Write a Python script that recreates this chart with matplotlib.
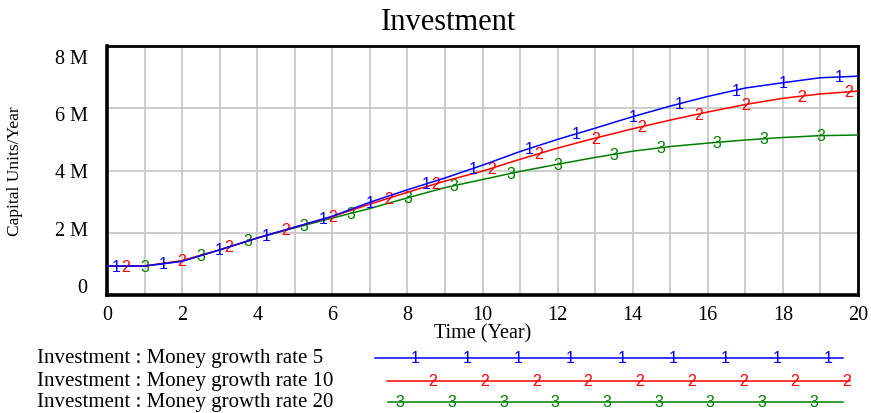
import matplotlib
matplotlib.use("Agg")
import matplotlib.pyplot as plt
import matplotlib.transforms as mtransforms
import numpy as np

# data (values in millions)
years = np.arange(0, 21)
rate5 = [0.93, 0.93, 1.08, 1.45, 1.83, 2.18, 2.53, 2.98, 3.38, 3.76, 4.17, 4.61,
         5.00, 5.36, 5.73, 6.07, 6.38, 6.65, 6.82, 6.98, 7.03]
rate10 = [0.93, 0.93, 1.10, 1.45, 1.83, 2.18, 2.52, 2.92, 3.30, 3.66, 3.98, 4.36,
          4.72, 5.04, 5.34, 5.62, 5.88, 6.12, 6.32, 6.46, 6.55]
rate20 = [0.93, 0.93, 1.10, 1.45, 1.83, 2.16, 2.47, 2.78, 3.12, 3.45, 3.71, 3.97,
          4.20, 4.42, 4.62, 4.77, 4.88, 4.98, 5.06, 5.12, 5.14]
series_names = ["Investment : Money growth rate 5",
                "Investment : Money growth rate 10",
                "Investment : Money growth rate 20"]
series_tags = ["1", "2", "3"]
yticks = [0, 2, 4, 6, 8]
ytick_labels = ["0", "2 M", "4 M", "6 M", "8 M"]

colors = ["#0000ff", "#ff0000", "#008000"]
# Vensim puts the number tags in pairs, one pair every 2.75 years
tag_offsets = [(0.25, 1.5), (0.5, 2.0), (1.0, 2.5)]

serif = ["Liberation Serif", "DejaVu Serif"]
sans = ["Liberation Sans", "DejaVu Sans"]

fig = plt.figure(figsize=(8.71, 4.14), dpi=100)
ax = fig.add_axes([107 / 871, 1 - 296 / 414, (858 - 107) / 871, (296 - 47) / 414])

for i, (vals, c, tag, offs) in enumerate(zip([rate5, rate10, rate20], colors,
                                             series_tags, tag_offsets)):
    z = 5 - i
    ax.plot(years, vals, color=c, lw=1.1, zorder=z)
    k = np.arange(0, 8) * 2.75
    mt = np.sort(np.concatenate([offs[0] + k, offs[1] + k]))
    mt = mt[mt < 20]
    for t in mt:
        ax.text(t, np.interp(t, years, vals), tag, color=c, fontsize=11.5,
                family=sans, ha="center", va="center", zorder=z)

ax.set_xlim(0, 20)
ax.set_ylim(0, 8)
ax.set_xticks(np.arange(0, 21, 1), minor=True)
ax.set_xticks(np.arange(0, 21, 2))
ax.set_yticks(yticks)
ax.set_yticklabels(ytick_labels)
ax.grid(True, which="both", axis="x", color="#c8c8c8", lw=1.3)
ax.grid(True, which="major", axis="y", color="#c8c8c8", lw=1.3)
ax.tick_params(which="both", length=0, labelsize=14.5)
ax.tick_params(axis="y", pad=14)
ax.tick_params(axis="x", pad=7)
for lab in ax.get_xticklabels() + ax.get_yticklabels():
    lab.set_family(serif)

# Vensim squeezes the value labels toward the middle of the axis
for v, lab in zip(yticks, ax.get_yticklabels()):
    dy = (4 - v) / 4 * 10 / 100
    lab.set_transform(lab.get_transform() +
                      mtransforms.ScaledTranslation(0, dy, fig.dpi_scale_trans))

for side in ["left", "bottom"]:
    ax.spines[side].set_linewidth(2.6)
for side in ["top", "right"]:
    ax.spines[side].set_linewidth(2.0)

ax.set_title("Investment", family=serif, fontsize=22, pad=12, x=0.455)
ax.set_xlabel("Time (Year)", family=serif, fontsize=14.5, labelpad=0)
ax.set_ylabel("Capital Units/Year", family=serif, fontsize=12.5)
ax.yaxis.set_label_coords(-0.112, 0.5)

# legend below the chart, drawn in pixel coordinates
lg = fig.add_axes([0, 0, 1, 1], zorder=-1)
lg.set_xlim(0, 871)
lg.set_ylim(414, 0)
lg.axis("off")
rows_y = [359, 382, 403]
line_x0 = [375, 387, 388]
line_x1 = [843, 850, 843]
mark_x0 = [415, 433, 400]
for name, c, tag, y, x0, x1, m0 in zip(series_names, colors, series_tags,
                                       rows_y, line_x0, line_x1, mark_x0):
    lg.text(37, y, name, family=serif, fontsize=15, ha="left", va="center")
    lg.plot([x0, x1], [y, y], color=c, lw=1.1)
    for mx in np.arange(m0, x1 + 5, 51.7):
        lg.text(mx, y, tag, color=c, fontsize=11.5, family=sans,
                ha="center", va="center")

fig.savefig("out.png", dpi=100)
